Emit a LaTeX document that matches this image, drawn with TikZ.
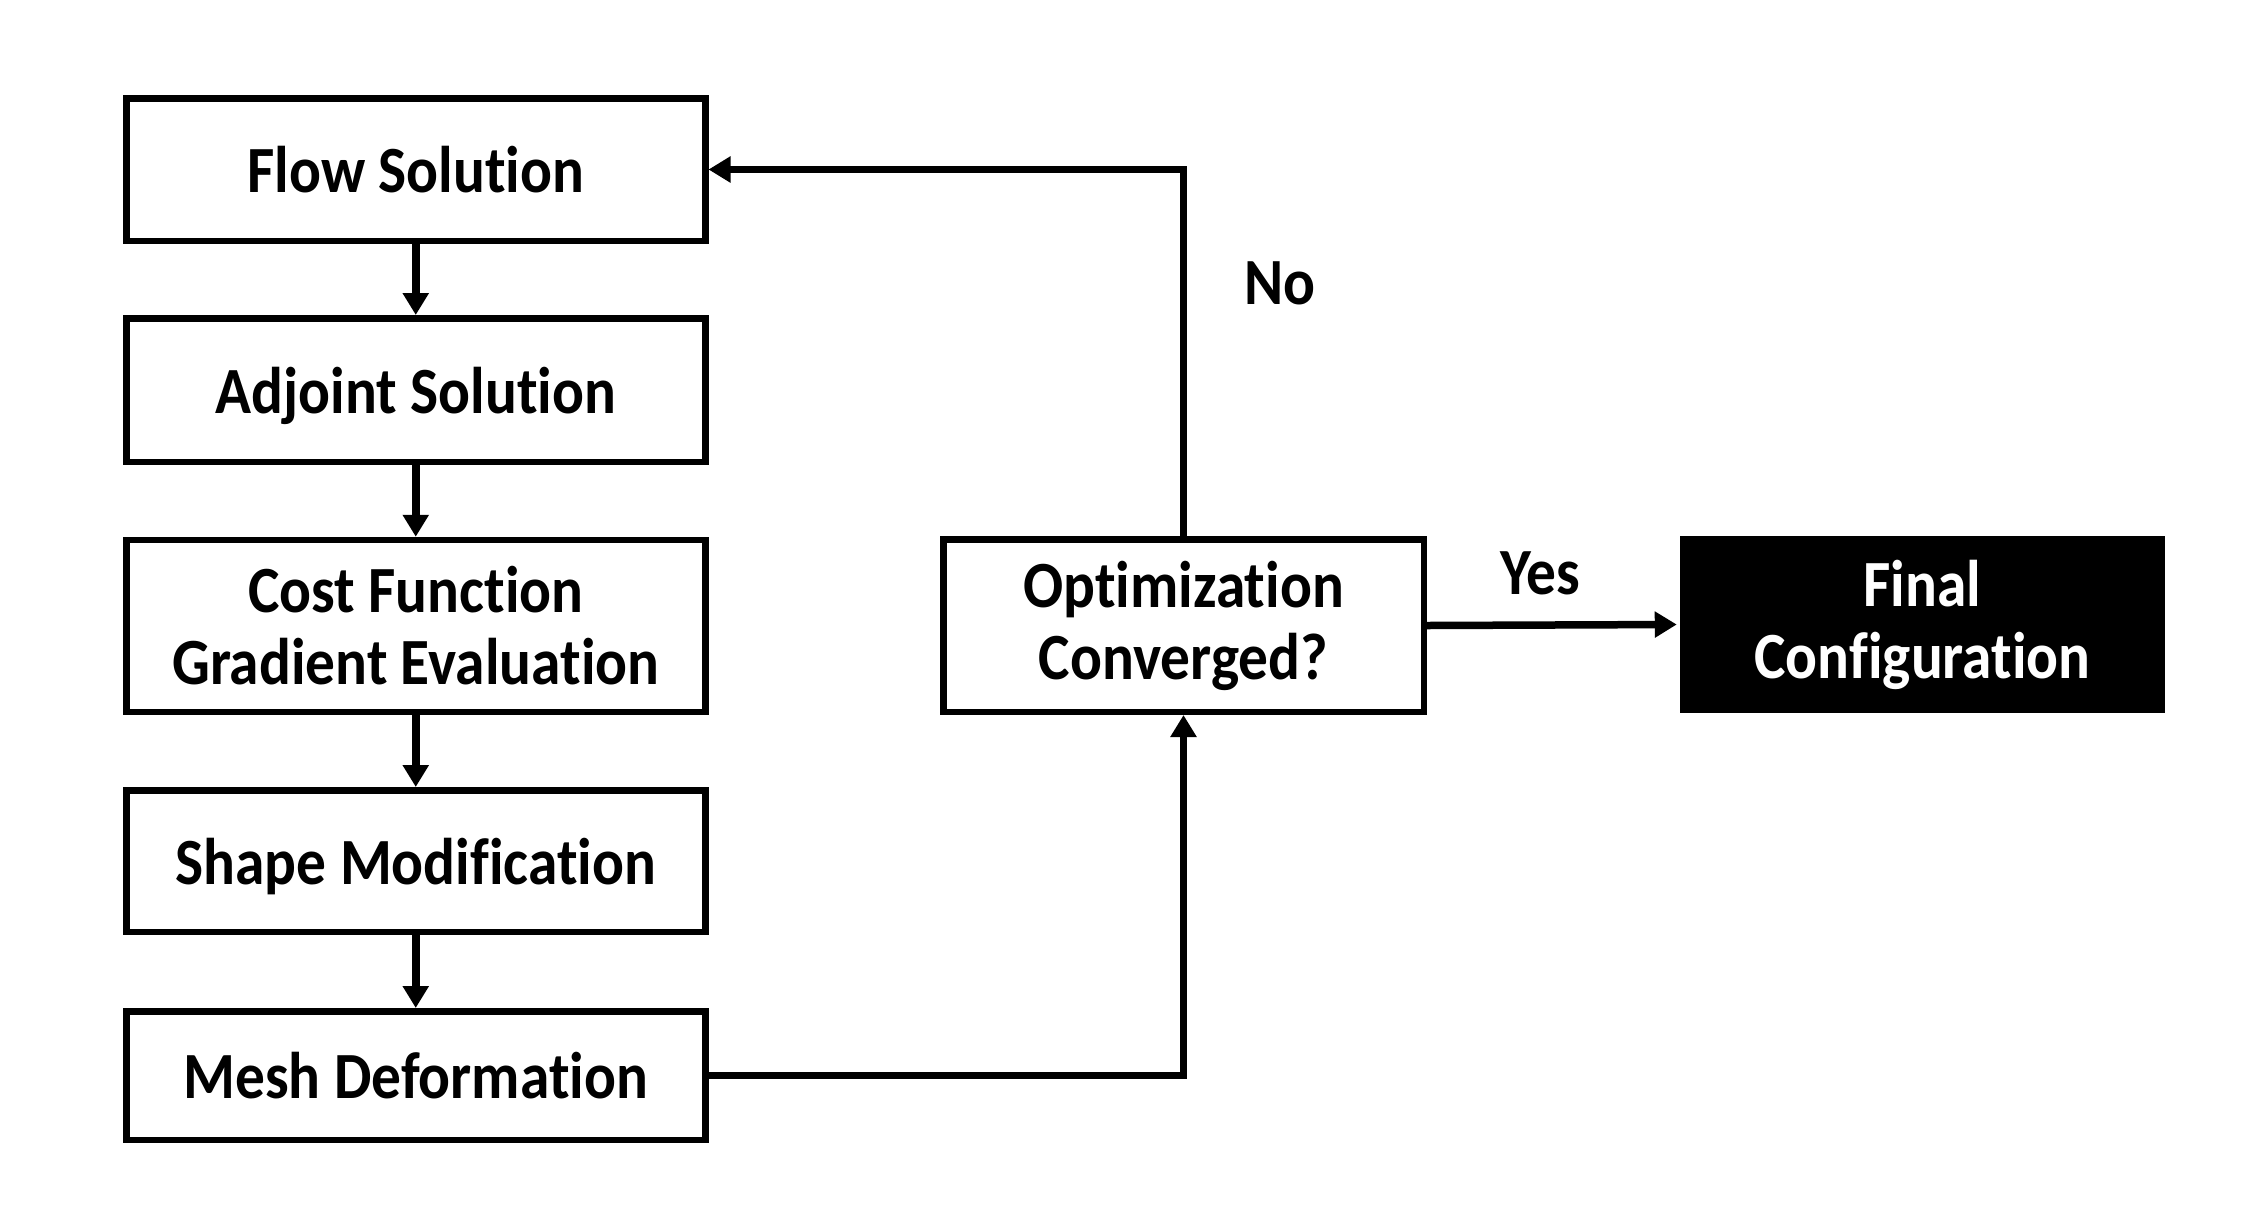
\documentclass[tikz,border=0pt]{standalone}
\usepackage{fontspec}
\setmainfont{Carlito}[FakeStretch=0.9,Ligatures=NoCommon]
\usetikzlibrary{arrows.meta}
\tikzset{
  box/.style={draw=black, line width=6.5pt, rectangle, fill=white, minimum width=579pt, inner sep=0pt, align=center, font=\fontsize{66}{72}\selectfont\bfseries},
  onebox/.style={box, text depth=0pt},
  finalbox/.style={box, fill=black, draw=none, text=white},
  conn/.style={line width=7.5pt, -{Triangle[width=25pt,length=22pt]}},
  lbl/.style={font=\fontsize{66}{72}\selectfont\bfseries, inner sep=0pt}
}
\begin{document}
\begin{tikzpicture}[x=1pt,y=-1pt]
\useasboundingbox (0,0) rectangle (2250,1219);
\node[onebox, minimum height=142.5pt] (flow) at (415.75,169.5) {Flow Solution};
\node[onebox, minimum height=143.5pt] (adj) at (415.75,390) {Adjoint Solution};
\node[box, minimum height=172pt] (cost) at (415.75,626) {Cost Function\\Gradient Evaluation};
\node[onebox, minimum height=141.5pt] (shape) at (415.75,861) {Shape Modification};
\node[onebox, minimum height=128.5pt] (mesh) at (415.75,1075.5) {Mesh Deformation};
\node[box, minimum width=480.5pt, minimum height=172.5pt] (opt) at (1183.5,625.5) {Optimization\\Converged?};
\node[finalbox, minimum width=485pt, minimum height=177pt] (final) at (1922.5,624.5) {Final\\Configuration};
\draw[conn] (flow) -- (adj);
\draw[conn] (adj) -- (cost);
\draw[conn] (cost) -- (shape);
\draw[conn] (shape) -- (mesh);
\draw[conn] (mesh.east) -| (opt.south);
\draw[conn] (opt.north) |- (flow.east);
\draw[conn] (opt.east) -- (final.west);
\node[lbl] (no) at (1280,283) {No};
\node[lbl] (yes) at (1540,573) {Yes};
\end{tikzpicture}
\end{document}
